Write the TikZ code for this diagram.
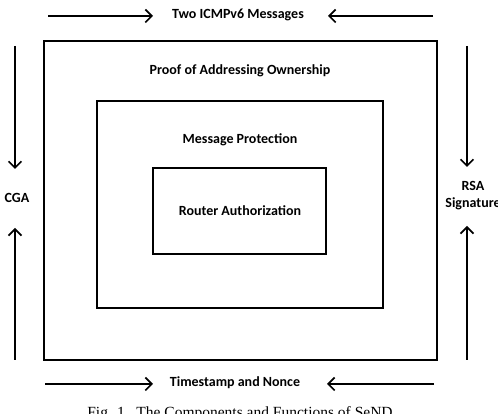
\documentclass[tikz,border=0pt]{standalone}
\usepackage{fontspec}
\setmainfont{Carlito}
\newfontfamily\capfont{Liberation Serif}
\usetikzlibrary{arrows.meta}

\begin{document}
\begin{tikzpicture}[x=1pt,y=1pt,
		box/.style={draw, line width=1.5pt, inner sep=0pt},
		lbl/.style={font=\fontsize{14}{17}\selectfont\bfseries, inner sep=1pt},
		arr/.style={line width=1.6pt, -{Straight Barb[length=6.5pt,width=13pt,line width=1.7pt]}}]
		\useasboundingbox (0,0) rectangle (498,414);

		% nested boxes
		\node[box, minimum width=393, minimum height=319] (outer) at (240.5,213.5) {};
		\node[box, minimum width=286, minimum height=207] (middle) at (240,209.5) {};
		\node[box, minimum width=173, minimum height=86] (inner) at (239.5,203) {};

		\node[lbl] (proof) at (240,343) {Proof of Addressing Ownership};
		\node[lbl] (prot) at (240,274) {Message Protection};
		\node[lbl] (auth) at (240,203) {Router Authorization};

		% top and bottom
		\node[lbl] (msgs) at (238,399) {Two ICMPv6 Messages};
		\coordinate (t1) at (48,398);
		\coordinate (t2) at (153,398);
		\coordinate (t3) at (433,398);
		\coordinate (t4) at (328,398);
		\draw[arr] (t1) -- (t2);
		\draw[arr] (t3) -- (t4);

		\node[lbl] (nonce) at (235,31) {Timestamp and Nonce};
		\coordinate (b1) at (45,30);
		\coordinate (b2) at (153,30);
		\coordinate (b3) at (434,30);
		\coordinate (b4) at (327,30);
		\draw[arr] (b1) -- (b2);
		\draw[arr] (b3) -- (b4);

		% left and right
		\node[lbl] (cga) at (17,216) {CGA};
		\coordinate (l1) at (15,368);
		\coordinate (l2) at (15,245);
		\coordinate (l3) at (15,54);
		\coordinate (l4) at (15,186);
		\draw[arr] (l1) -- (l2);
		\draw[arr] (l3) -- (l4);

		\node[lbl, align=center] (rsa) at (473,218) {RSA\\Signature};
		\coordinate (r1) at (467,368);
		\coordinate (r2) at (467,247);
		\coordinate (r3) at (467,54);
		\coordinate (r4) at (467,188);
		\draw[arr] (r1) -- (r2);
		\draw[arr] (r3) -- (r4);

		% caption, cut by the lower edge
		\begin{scope}
			\clip (0,0) rectangle (498,414);
			\node[font=\capfont\fontsize{15.5}{18}\selectfont, anchor=base] (cap) at (240,-3.5) {Fig. 1.\ \ The Components and Functions of SeND};
		\end{scope}

	\end{tikzpicture}
\end{document}
